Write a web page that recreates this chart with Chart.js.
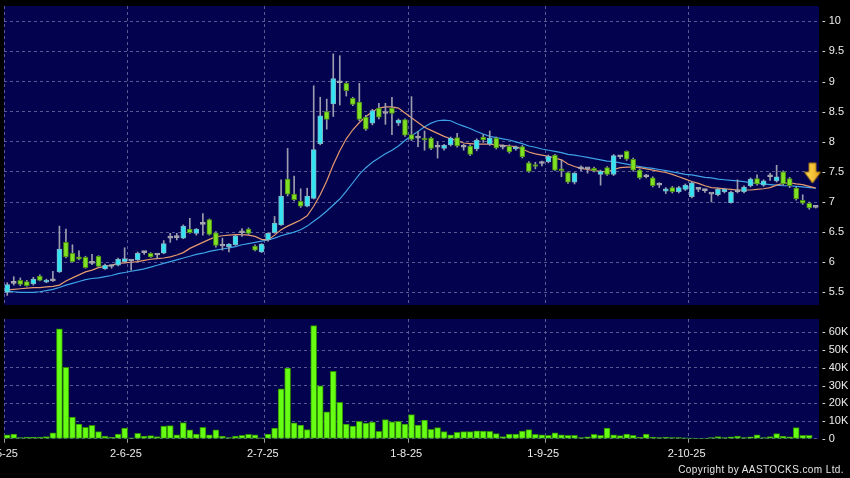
<!DOCTYPE html>
<html>
<head>
<meta charset="utf-8">
<script src="https://cdn.jsdelivr.net/npm/chart.js@4.4.1/dist/chart.umd.min.js"></script>
<style>
html, body { margin: 0; padding: 0; background: #000; }
#wrap { position: relative; width: 850px; height: 478px; overflow: hidden; background: #000; }
#price { position: absolute; left: 0; top: 0; }
#volume { position: absolute; left: 0; top: 312px; }
#copy { position: absolute; right: 6px; top: 464px; color: #e6e6e6;
        font: 10px 'Liberation Sans', Arial, sans-serif; letter-spacing: 0.4px; }
</style>
</head>
<body>
<div id="wrap">
  <canvas id="price" width="850" height="312"></canvas>
  <canvas id="volume" width="850" height="166"></canvas>
  <div id="copy">Copyright by AASTOCKS.com Ltd.</div>
</div>
<script>
// axis labels
const tickDates = ['2-5-25', '2-6-25', '2-7-25', '1-8-25', '1-9-25', '2-10-25'];
const tickAt = [-0.5, 18.5, 39.5, 61.5, 82.5, 104.5];   // month boundaries, in candle index units
const priceTicks = [5.5, 6, 6.5, 7, 7.5, 8, 8.5, 9, 9.5, 10];
const volumeTicks = [0, 10, 20, 30, 40, 50, 60];        // thousands

// daily OHLC
const openP = [5.50,5.65,5.70,5.68,5.64,5.77,5.67,5.69,5.84,6.33,6.15,6.09,6.08,5.98,6.10,5.89,5.93,5.95,6.01,6.02,
  6.04,6.16,6.15,6.12,6.15,6.40,6.41,6.40,6.55,6.48,6.63,6.71,6.49,6.27,6.26,6.29,6.49,6.55,6.27,6.17,
  6.37,6.49,6.62,7.38,7.13,7.01,6.93,7.06,7.97,8.50,8.63,8.98,8.97,8.72,8.66,8.41,8.31,8.56,8.47,8.56,
  8.31,8.37,8.12,8.06,8.06,8.06,7.91,7.89,7.95,8.07,7.91,7.93,7.88,8.08,7.96,8.06,7.91,7.93,7.88,7.92,
  7.65,7.61,7.64,7.67,7.78,7.55,7.49,7.33,7.55,7.55,7.56,7.46,7.57,7.46,7.75,7.84,7.71,7.53,7.42,7.40,
  7.28,7.18,7.24,7.17,7.21,7.09,7.21,7.19,7.13,7.12,7.17,6.99,7.17,7.17,7.27,7.39,7.28,7.42,7.35,7.50,
  7.39,7.23,7.03,6.98,6.91];
const highP = [5.66,5.76,5.74,5.70,5.75,5.79,5.72,5.85,6.60,6.55,6.29,6.19,6.10,6.13,6.11,5.97,5.96,6.07,6.24,6.04,
  6.17,6.18,6.16,6.14,6.36,6.48,6.48,6.62,6.73,6.56,6.81,6.72,6.51,6.40,6.31,6.45,6.56,6.57,6.29,6.31,
  6.49,6.76,7.37,7.89,7.43,7.22,7.23,8.93,8.74,8.71,9.46,9.43,9.00,8.74,8.97,8.44,8.54,8.64,8.64,8.74,
  8.38,8.38,8.75,8.17,8.18,8.08,8.00,7.96,8.08,8.14,7.96,7.95,8.05,8.12,8.18,8.08,7.95,7.95,7.93,7.94,
  7.67,7.66,7.68,7.78,7.79,7.70,7.50,7.49,7.60,7.57,7.58,7.53,7.59,7.79,7.77,7.85,7.73,7.55,7.46,7.42,
  7.32,7.24,7.26,7.26,7.30,7.34,7.23,7.21,7.14,7.23,7.23,7.18,7.37,7.27,7.40,7.45,7.37,7.48,7.61,7.52,
  7.41,7.25,7.12,7.00,6.92];
const lowP = [5.45,5.62,5.61,5.60,5.62,5.69,5.66,5.68,5.83,6.07,6.00,6.04,5.90,5.96,5.92,5.88,5.90,5.94,5.99,5.87,
  6.03,6.13,6.08,6.06,6.14,6.33,6.37,6.39,6.48,6.45,6.45,6.45,6.25,6.20,6.17,6.28,6.43,6.46,6.19,6.16,
  6.35,6.48,6.61,7.10,7.02,6.91,6.92,7.05,7.95,8.21,8.42,8.61,8.76,8.60,8.35,8.19,8.28,8.38,8.29,8.12,
  8.27,8.09,8.02,7.92,7.86,7.87,7.73,7.86,7.93,7.91,7.86,7.77,7.85,7.99,7.94,7.88,7.88,7.81,7.86,7.73,
  7.49,7.55,7.60,7.65,7.52,7.42,7.31,7.30,7.52,7.48,7.50,7.28,7.44,7.44,7.72,7.69,7.51,7.38,7.40,7.25,
  7.24,7.14,7.15,7.15,7.19,7.07,7.17,7.16,7.00,7.10,7.15,6.98,7.15,7.15,7.25,7.28,7.26,7.36,7.33,7.28,
  7.24,7.03,6.96,6.88,6.90];
const closeP = [5.63,5.65,5.63,5.61,5.72,5.70,5.70,5.69,6.22,6.09,6.01,6.05,5.91,5.98,5.93,5.95,5.93,6.05,6.06,6.02,
  6.15,6.16,6.09,6.12,6.31,6.40,6.41,6.60,6.49,6.55,6.63,6.46,6.28,6.27,6.30,6.44,6.49,6.48,6.20,6.30,
  6.48,6.65,7.10,7.13,7.04,6.93,7.10,7.87,8.43,8.37,9.05,8.98,8.85,8.62,8.37,8.21,8.52,8.41,8.47,8.47,
  8.36,8.11,8.04,8.06,8.03,7.89,7.91,7.94,8.06,7.93,7.91,7.79,8.03,8.03,8.06,7.90,7.91,7.83,7.91,7.75,
  7.51,7.59,7.64,7.76,7.53,7.52,7.33,7.48,7.55,7.55,7.52,7.51,7.46,7.77,7.75,7.71,7.53,7.40,7.42,7.27,
  7.28,7.22,7.17,7.24,7.28,7.32,7.21,7.19,7.13,7.21,7.21,7.16,7.17,7.25,7.38,7.30,7.35,7.42,7.42,7.30,
  7.27,7.05,6.98,6.90,6.91];

// moving averages as plotted (orange short, blue long)
const maShort = [5.54,5.55,5.56,5.57,5.58,5.58,5.59,5.60,5.62,5.69,5.74,5.79,5.84,5.87,5.91,5.93,5.95,5.98,5.99,6.00,
  6.01,6.03,6.05,6.06,6.07,6.09,6.12,6.16,6.23,6.28,6.33,6.38,6.42,6.44,6.45,6.46,6.46,6.45,6.43,6.38,
  6.37,6.45,6.54,6.60,6.65,6.70,6.77,6.93,7.12,7.35,7.62,7.85,8.05,8.20,8.32,8.42,8.50,8.56,8.58,8.58,
  8.56,8.48,8.40,8.32,8.24,8.19,8.14,8.09,8.05,8.02,7.98,7.97,7.96,7.96,7.96,7.95,7.94,7.93,7.92,7.88,
  7.83,7.80,7.78,7.76,7.73,7.70,7.63,7.59,7.56,7.54,7.52,7.51,7.50,7.54,7.57,7.58,7.58,7.57,7.55,7.53,
  7.51,7.49,7.46,7.42,7.38,7.34,7.31,7.27,7.24,7.23,7.22,7.21,7.20,7.20,7.20,7.21,7.22,7.24,7.28,7.31,
  7.32,7.30,7.29,7.26,7.23];
const maLong = [5.52,5.51,5.50,5.50,5.50,5.51,5.53,5.55,5.58,5.62,5.65,5.68,5.71,5.73,5.74,5.76,5.78,5.81,5.83,5.85,
  5.87,5.89,5.92,5.95,5.98,6.01,6.04,6.07,6.10,6.13,6.15,6.18,6.20,6.22,6.24,6.26,6.29,6.31,6.33,6.35,
  6.37,6.40,6.44,6.47,6.50,6.54,6.60,6.68,6.76,6.85,6.95,7.05,7.18,7.32,7.46,7.57,7.66,7.73,7.80,7.86,
  7.93,8.02,8.10,8.17,8.25,8.31,8.35,8.36,8.35,8.30,8.26,8.22,8.17,8.13,8.09,8.07,8.05,8.03,8.00,7.97,
  7.93,7.91,7.88,7.86,7.84,7.82,7.79,7.78,7.76,7.74,7.72,7.70,7.68,7.67,7.65,7.63,7.61,7.59,7.57,7.56,
  7.54,7.52,7.50,7.48,7.46,7.45,7.43,7.41,7.40,7.38,7.37,7.36,7.35,7.34,7.32,7.31,7.30,7.29,7.28,7.27,
  7.27,7.26,7.25,7.24,7.23];

// daily volume, thousands of shares
const volumeK = [2.2,2.7,0.7,0.9,0.9,0.9,1.3,3.3,62,40.3,12.3,8.3,6.5,7.6,4,1.6,0.9,2.7,6,0.5,
  3.1,1.6,1.8,1.3,7.2,7.4,2.3,9.2,5.1,2.7,6.5,2.3,5.1,1.6,0.7,1.6,2,2.5,2.3,0.5,
  2.7,6,28.2,39.8,9,7.8,5.2,63.8,29.8,15.2,38,20.6,8.3,7.2,9.9,8.9,9.4,4.2,10.8,9.6,
  9.9,8.3,13.6,7.8,10.5,5.4,6.3,4,2.3,3.6,4,4,4.5,4.3,4.2,2.9,1.3,2.7,2.7,4.3,
  5.2,2.5,2.3,2,3.3,2.2,2,2,0.7,1.1,2.5,2,6,2.2,1.8,2.7,2,0.9,2.7,0.9,
  0.7,0.9,0.7,0.7,0.5,0.4,0.3,0.3,0.7,1.3,0.7,1.1,1.6,0.7,1.1,2.2,0.7,1.3,2.9,1.6,
  1.1,6.3,2,2,0];

// marker arrow (index, price)
const arrowAt = [123.5, 7.48];

const FONT = { family: "'Liberation Sans', Arial, sans-serif", size: 11 };
const TEXT = '#ececec';
const GRID = '#5a5a92';
const NAVY = '#02024e';
const CYAN = '#33e3f2', CYAN_EDGE = '#7fb4c4';
const GREEN = '#80e023', GREEN_EDGE = '#4a8a14';
const FLAT = '#a8a8b0';

const idx = closeP.map((_, i) => i);

const plotBg = {
    id: 'plotBg',
    beforeDraw(chart) {
        const a = chart.chartArea;
        const ctx = chart.ctx;
        ctx.save();
        ctx.fillStyle = NAVY;
        ctx.fillRect(a.left, a.top, a.right - a.left, a.bottom - a.top);
        ctx.restore();
    }
};

function noPad(s) {
    s.paddingLeft = 0; s.paddingRight = 0; s.paddingTop = 0; s.paddingBottom = 0;
}

function xAxis(showLabels) {
    return {
        type: 'linear', min: -0.5, max: 124.5, offset: false,
        afterBuildTicks: s => { s.ticks = tickAt.map(v => ({ value: v })); },
        afterFit: s => { noPad(s); },
        border: { display: false, dash: [3, 3] },
        grid: {
            offset: false, color: GRID, drawTicks: showLabels, tickLength: 4,
            tickColor: '#9a9a9a', tickBorderDash: [4, 0]
        },
        ticks: {
            display: showLabels, autoSkip: false, maxRotation: 0, padding: 5,
            color: TEXT, font: FONT, labelOffset: -2,
            callback: (v, i) => tickDates[i]
        }
    };
}

function yAxis(min, max, values, fmt) {
    return {
        position: 'right', min: min, max: max,
        afterBuildTicks: s => { s.ticks = values.map(v => ({ value: v })); },
        afterFit: s => { s.width = 31; noPad(s); },
        border: { display: false, dash: [3, 3] },
        grid: { color: GRID, drawTicks: false },
        ticks: { color: TEXT, font: FONT, padding: 3, callback: v => '- ' + fmt(v) }
    };
}

// arrow marker drawn into a small canvas used as point style
const arrowImg = document.createElement('canvas');
arrowImg.width = 18; arrowImg.height = 22;
(function () {
    const c = arrowImg.getContext('2d');
    const g = c.createLinearGradient(0, 0, 18, 0);
    g.addColorStop(0, '#ffe15a');
    g.addColorStop(1, '#e9a41c');
    c.fillStyle = g;
    c.strokeStyle = '#b07a10';
    c.lineWidth = 1;
    c.beginPath();
    c.moveTo(5.5, 1); c.lineTo(12.5, 1); c.lineTo(12.5, 10);
    c.lineTo(17, 10); c.lineTo(9, 21); c.lineTo(1, 10); c.lineTo(5.5, 10);
    c.closePath();
    c.fill(); c.stroke();
})();

new Chart(document.getElementById('price'), {
    type: 'bar',
    data: {
        datasets: [
            {
                type: 'scatter', order: 0, clip: false,
                data: [{ x: arrowAt[0], y: arrowAt[1] }],
                pointStyle: arrowImg, pointRadius: 10
            },
            {
                label: 'body', order: 1, grouped: false, barThickness: 5, minBarLength: 2,
                data: idx.map(i => ({ x: i, y: [openP[i], closeP[i]] })),
                backgroundColor: idx.map(i => closeP[i] > openP[i] ? CYAN : closeP[i] < openP[i] ? GREEN : FLAT),
                borderColor: idx.map(i => closeP[i] > openP[i] ? CYAN_EDGE : closeP[i] < openP[i] ? GREEN_EDGE : FLAT),
                borderWidth: 1, borderSkipped: false
            },
            {
                label: 'wick', order: 2, grouped: false, barThickness: 1,
                data: idx.map(i => ({ x: i, y: [lowP[i], highP[i]] })),
                backgroundColor: '#9c9cae', borderWidth: 0
            },
            {
                type: 'line', order: 3,
                data: idx.map(i => ({ x: i, y: maShort[i] })),
                borderColor: '#e59a6e', borderWidth: 1.2, pointRadius: 0, tension: 0
            },
            {
                type: 'line', order: 4,
                data: idx.map(i => ({ x: i, y: maLong[i] })),
                borderColor: '#3fa2e6', borderWidth: 1.2, pointRadius: 0, tension: 0
            }
        ]
    },
    options: {
        responsive: false, animation: false,
        layout: { autoPadding: false, padding: { left: 4, top: 6, right: 0, bottom: 7 } },
        plugins: { legend: { display: false }, tooltip: { enabled: false } },
        scales: {
            x: xAxis(false),
            y: yAxis(5.29, 10.255, priceTicks, v => String(v))
        }
    },
    plugins: [plotBg]
});

new Chart(document.getElementById('volume'), {
    type: 'bar',
    data: {
        datasets: [{
            data: idx.map(i => ({ x: i, y: volumeK[i] })),
            barThickness: 6, backgroundColor: '#66ff14', borderColor: '#2f8a00',
            borderWidth: 1, borderSkipped: false
        }]
    },
    options: {
        responsive: false, animation: false,
        layout: { autoPadding: false, padding: { left: 4, top: 7, right: 0, bottom: 12 } },
        plugins: { legend: { display: false }, tooltip: { enabled: false } },
        scales: {
            x: xAxis(true),
            y: yAxis(0, 67.5, volumeTicks, v => v === 0 ? '0' : v + 'K')
        }
    },
    plugins: [plotBg]
});
</script>
</body>
</html>
